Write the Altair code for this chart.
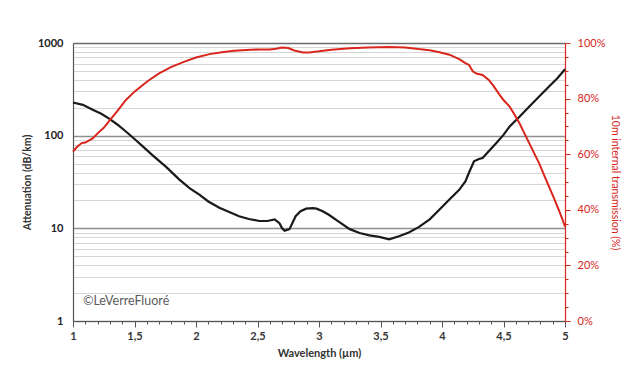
import altair as alt
import pandas as pd

# Attenuation (black curve, left log axis)
att_wl = [1.00, 1.08, 1.16, 1.23, 1.30, 1.36, 1.43, 1.50, 1.565, 1.65, 1.757, 1.865, 1.95,
          2.03, 2.10, 2.19, 2.27, 2.35, 2.43, 2.515, 2.58, 2.64, 2.68, 2.70, 2.72, 2.76, 2.81,
          2.85, 2.895, 2.95, 2.98, 3.03, 3.08, 3.16, 3.25, 3.33, 3.41, 3.49, 3.57, 3.65, 3.73,
          3.81, 3.90, 3.98, 4.06, 4.14, 4.19, 4.22, 4.26, 4.30, 4.33, 4.38, 4.44, 4.50, 4.55,
          4.63, 4.71, 4.79, 4.87, 4.94, 5.00]
att_val = [228, 215, 190, 172, 151, 132, 111, 92, 77, 61, 46, 33.6, 27,
           23, 19.5, 16.7, 15, 13.5, 12.6, 12.0, 12.0, 12.5, 11.3, 10, 9.4, 9.8, 13.5,
           15.3, 16.3, 16.5, 16.3, 15.3, 14.0, 11.8, 9.8, 8.9, 8.4, 8.1, 7.6, 8.2, 9.0,
           10.3, 12.5, 16, 20.5, 26, 32, 40, 53, 56, 57.5, 68, 83, 102, 126,
           160, 207, 265, 339, 420, 521]

# Internal transmission (red curve, right axis, percent)
tr_wl = [1.00, 1.03, 1.07, 1.10, 1.16, 1.20, 1.25, 1.30, 1.36, 1.43, 1.50, 1.57, 1.62, 1.70,
         1.80, 1.906, 2.00, 2.11, 2.21, 2.31, 2.41, 2.515, 2.60, 2.65, 2.70, 2.75, 2.80, 2.87,
         2.92, 3.00, 3.10, 3.25, 3.40, 3.57, 3.70, 3.81, 3.90, 3.98, 4.06, 4.14, 4.19, 4.22,
         4.25, 4.28, 4.33, 4.38, 4.42, 4.46, 4.50, 4.55, 4.59, 4.63, 4.67, 4.71, 4.75, 4.79,
         4.83, 4.87, 4.91, 4.95, 4.98, 5.00]
tr_val = [60.9, 62.5, 64.0, 64.2, 65.7, 67.5, 69.5, 72.3, 75.5, 79.5, 82.5, 85.0, 86.7, 89.1,
          91.4, 93.3, 94.8, 96.0, 96.7, 97.2, 97.5, 97.7, 97.7, 97.9, 98.4, 98.2, 97.3, 96.6,
          96.6, 97.0, 97.6, 98.1, 98.4, 98.6, 98.4, 97.8, 97.4, 96.7, 95.8, 94.2, 92.8, 92.1,
          89.8, 89.0, 88.5, 86.7, 84.5, 81.9, 79.5, 77.1, 74.2, 71.1, 67.5, 63.9, 60.3, 56.7,
          52.5, 48.3, 44.2, 39.9, 36.5, 33.9]

x_ticks = [round(1 + 0.1 * i, 1) for i in range(41)]
y_ticks = [m * 10 ** e for e in range(3) for m in range(1, 10)] + [1000]
r_ticks = [round(0.05 * i, 2) for i in range(21)]
credit = ["©LeVerreFluoré"]

RED = "#d8261c"
FONT = "Lato"

att_df = pd.DataFrame({"wl": att_wl, "att": att_val})
tr_df = pd.DataFrame({"wl": tr_wl, "tr": [v / 100 for v in tr_val]})
credit_df = pd.DataFrame({"t": credit})

x_major = "abs(datum.value*2 - round(datum.value*2)) < 0.001"
xenc = alt.X(
    "wl:Q",
    scale=alt.Scale(domain=[1, 5], nice=False, zero=False),
    axis=alt.Axis(
        values=x_ticks,
        labelExpr=f"{x_major} ? replace(format(datum.value, '.1~f'), '.', ',') : ''",
        labelOverlap=False,
        labelFlush=False,
        grid=False,
        title="Wavelength (µm)",
        titleFontSize=11,
        titleFontWeight="bold",
        titleColor="#333",
        titlePadding=6,
        labelFontSize=11,
        labelFontWeight="bold",
        labelColor="#333",
        labelPadding=3,
        tickColor="#555",
        tickSize={"condition": {"test": x_major, "value": 6}, "value": 3},
        domainColor="#555",
        domainWidth=1.2,
    ),
)

y_major = "indexof([1,10,100,1000], datum.value) >= 0"
black = alt.Chart(att_df).mark_line(color="#1a1a1a", strokeWidth=2.2).encode(
    x=xenc,
    y=alt.Y(
        "att:Q",
        scale=alt.Scale(type="log", domain=[1, 1000], nice=False),
        axis=alt.Axis(
            values=y_ticks,
            labelExpr=f"{y_major} ? format(datum.value, 'd') : ''",
            labelOverlap=False,
            ticks=False,
            grid=True,
            gridColor={
                "condition": [
                    {"test": "datum.value == 1000", "value": "#6a6a6a"},
                    {"test": y_major, "value": "#8f8f8f"},
                ],
                "value": "#d6d6d6",
            },
            gridWidth={"condition": {"test": y_major, "value": 1.4}, "value": 1},
            title="Attenuation (dB/km)",
            titleFontSize=10.5,
            titleFontWeight="bold",
            titleColor="#333",
            titlePadding=5,
            labelFontSize=11,
            labelFontWeight="bold",
            labelColor="#222",
            labelPadding=10,
            domainColor="#555",
            domainWidth=1.2,
        ),
    ),
)

r_major = "abs(datum.value*5 - round(datum.value*5)) < 0.001"
red = alt.Chart(tr_df).mark_line(color=RED, strokeWidth=2).encode(
    x=xenc,
    y=alt.Y(
        "tr:Q",
        scale=alt.Scale(domain=[0, 1], nice=False),
        axis=alt.Axis(
            orient="right",
            values=r_ticks,
            labelExpr=f"{r_major} ? format(datum.value, '.0%') : ''",
            labelOverlap=False,
            labelFlush=False,
            grid=False,
            tickColor=RED,
            tickSize={"condition": {"test": r_major, "value": 5}, "value": 3},
            domainColor=RED,
            domainWidth=1.2,
            labelColor=RED,
            labelFontSize=11,
            labelPadding=7,
            title="10m internal transmission (%)",
            titleColor=RED,
            titleFontSize=10.5,
            titleFontWeight="normal",
            titlePadding=5,
        ),
    ),
)

text = alt.Chart(credit_df).mark_text(
    align="left", baseline="middle", fontSize=12.5, color="#5a5a5a", font=FONT
).encode(x=alt.value(10), y=alt.value(258), text="t:N")

chart = (
    alt.layer(black, red, text)
    .resolve_scale(y="independent")
    .properties(
        width=492,
        height=278,
        autosize=alt.AutoSizeParams(type="none"),
        padding={"left": 65, "top": 35, "right": 60, "bottom": 50},
        background="white",
    )
    .configure_view(strokeWidth=0)
    .configure_axis(labelFont=FONT, titleFont=FONT)
)

chart.save("out.html", embed_options={"renderer": "svg", "actions": False})
